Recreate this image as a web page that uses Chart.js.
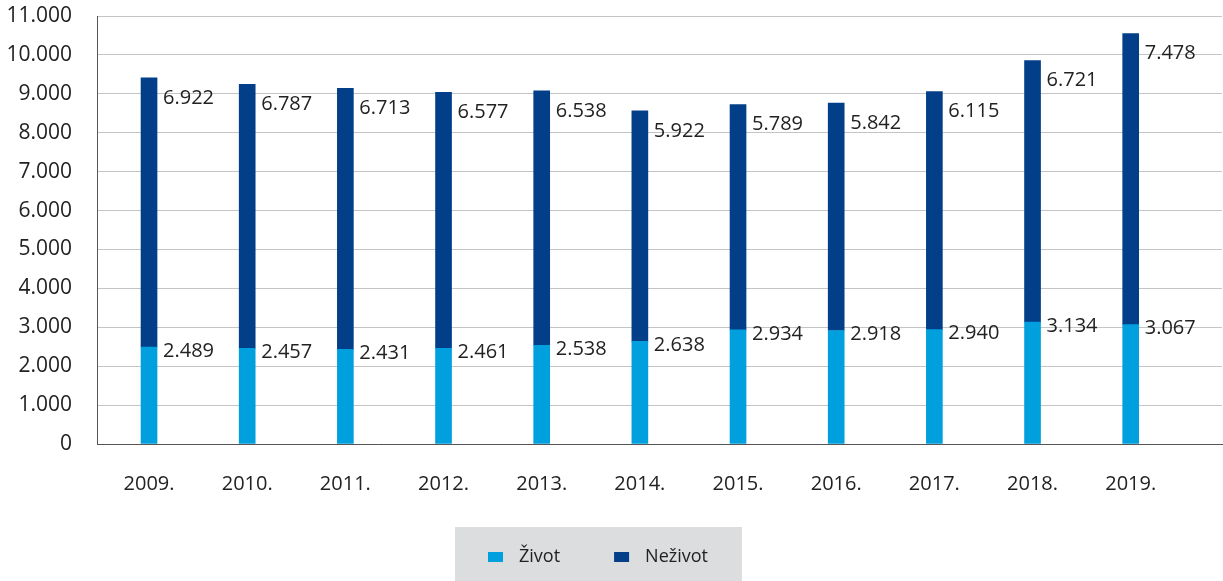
<!DOCTYPE html>
<html>
<head>
<meta charset="utf-8">
<script src="https://cdn.jsdelivr.net/npm/chart.js@4/dist/chart.umd.min.js"></script>
<style>
  html, body { margin: 0; padding: 0; background: #fff; }
  #wrap { width: 1223px; height: 581px; }
</style>
</head>
<body>
<div id="wrap"><canvas id="chart" width="1223" height="581"></canvas></div>
<script>
const years = ['2009.', '2010.', '2011.', '2012.', '2013.', '2014.', '2015.', '2016.', '2017.', '2018.', '2019.'];
const zivot = [2489, 2457, 2431, 2461, 2538, 2638, 2934, 2918, 2940, 3134, 3067];
const nezivot = [6922, 6787, 6713, 6577, 6538, 5922, 5789, 5842, 6115, 6721, 7478];

const FONT = "'Open Sans', 'Noto Sans', sans-serif";
const fmt = (v) => String(v).replace(/\B(?=(\d{3})+(?!\d))/g, '.');

// value labels to the right of each bar segment
const valueLabels = {
  id: 'valueLabels',
  afterDatasetsDraw(chart) {
    const ctx = chart.ctx;
    ctx.save();
    ctx.font = '20px ' + FONT;
    ctx.fillStyle = '#222';
    ctx.textAlign = 'left';
    ctx.textBaseline = 'middle';
    chart.data.datasets.forEach((ds, i) => {
      const meta = chart.getDatasetMeta(i);
      const shift = i === 0 ? 4 : 20;
      meta.data.forEach((bar, j) => {
        ctx.fillText(fmt(ds.data[j].y), bar.x + bar.width / 2 + 6, bar.y + shift);
      });
    });
    ctx.restore();
  }
};

// legend in a grey box under the axis
const boxLegend = {
  id: 'boxLegend',
  afterDraw(chart) {
    const ctx = chart.ctx;
    const sets = chart.data.datasets;
    ctx.save();
    ctx.font = '18px ' + FONT;
    const sq = 15, gapText = 16, gapItem = 54, side = 33;
    const widths = sets.map((ds) => sq + gapText + ctx.measureText(ds.label).width);
    const inner = widths.reduce((a, b) => a + b, 0) + gapItem * (sets.length - 1);
    const left = Math.round(598 - inner / 2 - side);
    ctx.fillStyle = '#dcddde';
    ctx.fillRect(left, 527, inner + side * 2 + 1, chart.height - 527);
    let x = left + side;
    const cy = 557;
    sets.forEach((ds, i) => {
      ctx.fillStyle = ds.backgroundColor;
      ctx.fillRect(x, cy - 5, sq, 10);
      ctx.fillStyle = '#222';
      ctx.textBaseline = 'middle';
      ctx.fillText(ds.label, x + sq + gapText, cy);
      x += widths[i] + gapItem;
    });
    ctx.restore();
  }
};

new Chart(document.getElementById('chart'), {
  type: 'bar',
  data: {
    datasets: [
      {
        label: 'Život',
        data: zivot.map((v, i) => ({ x: i, y: v })),
        backgroundColor: '#00a0df',
        barThickness: 16,
      },
      {
        label: 'Neživot',
        data: nezivot.map((v, i) => ({ x: i, y: v })),
        backgroundColor: '#023f88',
        barThickness: 16,
      },
    ],
  },
  options: {
    responsive: false,
    animation: false,
    layout: { autoPadding: false, padding: { top: 16, right: 1, left: 7, bottom: 85 } },
    scales: {
      x: {
        type: 'linear',
        stacked: true,
        offset: false,
        bounds: 'data',
        min: -0.53,
        max: 10.93,
        afterBuildTicks: (scale) => {
          scale.ticks = years.map((_, i) => ({ value: i }));
        },
        afterFit: (scale) => { scale.height = 52; },
        grid: { display: false, drawTicks: false },
        border: { color: '#555', width: 1 },
        ticks: {
          autoSkip: false,
          maxRotation: 0,
          padding: 28,
          color: '#222',
          font: { family: FONT, size: 20 },
          callback: (v) => years[v] ?? '',
        },
      },
      y: {
        stacked: true,
        min: 0,
        max: 11000,
        afterFit: (scale) => {
          scale.width = 90;
          scale.paddingTop = 0;
          scale.paddingBottom = 0;
        },
        grid: { color: '#c4c4c4', drawTicks: false },
        border: { color: '#555', width: 1 },
        ticks: {
          stepSize: 1000,
          padding: 25,
          color: '#222',
          font: { family: FONT, size: 21 },
          callback: (v) => fmt(v),
        },
      },
    },
    plugins: {
      legend: { display: false },
      tooltip: { enabled: false },
    },
  },
  plugins: [valueLabels, boxLegend],
});
</script>
</body>
</html>
